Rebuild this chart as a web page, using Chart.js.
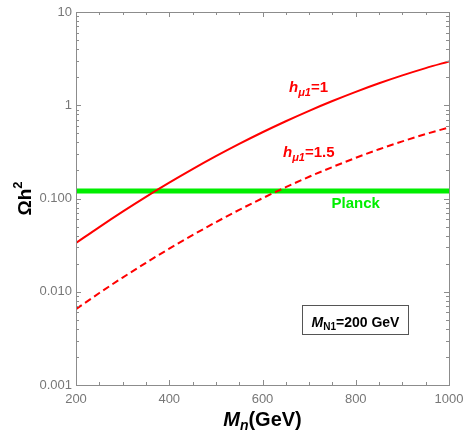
<!DOCTYPE html>
<html lang="en">
<head>
<meta charset="UTF-8">
<title>Relic density vs M_n</title>
<script src="https://cdn.jsdelivr.net/npm/chart.js"></script>
<style>
  body { margin: 0; background: #fff; }
  #wrap { width: 464px; height: 432px; position: relative; }
</style>
</head>
<body>
<div id="wrap"><canvas id="relicChart"></canvas></div>
<script>
// data
const masses = [200, 250, 300, 350, 400, 450, 500, 550, 600, 650, 700, 750, 800, 850, 900, 950, 1000];
const omegaH1 = [0.0333, 0.0494, 0.0723, 0.1042, 0.1478, 0.2065, 0.2841, 0.3849, 0.5134, 0.6741, 0.8719, 1.110, 1.392, 1.720, 2.091, 2.503, 2.951];
const omegaH15 = [0.00652, 0.00969, 0.01418, 0.02043, 0.02898, 0.0405, 0.0557, 0.0755, 0.1007, 0.1322, 0.1710, 0.2176, 0.2729, 0.3373, 0.4100, 0.4908, 0.5786];
const planckRange = [200, 1000];
const planckOmega = 0.12;
const xTicks = [200, 400, 600, 800, 1000];
const yTicks = [0.001, 0.01, 0.1, 1, 10];
const yTickLabels = ['0.001', '0.010', '0.100', '1', '10'];

const FONT = '"Liberation Sans", Arial, sans-serif';
const AXIS_GREY = '#8c8c8c';
const RED = '#ff0000';
const GREEN = '#00ee00';

// draws a run of text pieces one after another (for sub/superscripts)
function drawRuns(ctx, x, y, runs, align) {
  let total = 0;
  runs.forEach(r => { ctx.font = r.font; total += ctx.measureText(r.t).width; });
  let cx = align === 'center' ? x - total / 2 : x;
  runs.forEach(r => {
    ctx.font = r.font;
    ctx.fillText(r.t, cx, y + (r.dy || 0));
    cx += ctx.measureText(r.t).width;
  });
  return total;
}

const framePlugin = {
  id: 'frame',
  afterDatasetsDraw(chart) {
    const { ctx, chartArea: a, scales: { x, y } } = chart;
    ctx.save();
    ctx.strokeStyle = AXIS_GREY;
    ctx.lineWidth = 1;
    ctx.strokeRect(Math.round(a.left) + 0.5, Math.round(a.top) + 0.5, Math.round(a.right - a.left), Math.round(a.bottom - a.top));
    ctx.beginPath();
    // x ticks, every 50 GeV, inward on bottom and top
    for (let m = 200; m <= 1000; m += 50) {
      const px = Math.round(x.getPixelForValue(m)) + 0.5;
      const len = m % 200 === 0 ? 5 : 3;
      ctx.moveTo(px, a.bottom); ctx.lineTo(px, a.bottom - len);
      ctx.moveTo(px, a.top); ctx.lineTo(px, a.top + len);
    }
    // y ticks, decades and 2..9 minors, inward on left and right
    for (let e = -3; e <= 1; e++) {
      for (let k = 1; k <= 9; k++) {
        const v = k * Math.pow(10, e);
        if (v > 10) break;
        const py = Math.round(y.getPixelForValue(v)) + 0.5;
        const len = k === 1 ? 5 : 3;
        ctx.moveTo(a.left, py); ctx.lineTo(a.left + len, py);
        ctx.moveTo(a.right, py); ctx.lineTo(a.right - len, py);
      }
    }
    ctx.stroke();

    // curve labels
    ctx.fillStyle = RED;
    ctx.textBaseline = 'alphabetic';
    drawRuns(ctx, x.getPixelForValue(657), y.getPixelForValue(1.38), [
      { t: 'h', font: 'italic bold 15px ' + FONT },
      { t: 'μ1', font: 'italic bold 11px ' + FONT, dy: 4 },
      { t: '=1', font: 'bold 15px ' + FONT }
    ]);
    drawRuns(ctx, x.getPixelForValue(644), y.getPixelForValue(0.278), [
      { t: 'h', font: 'italic bold 15px ' + FONT },
      { t: 'μ1', font: 'italic bold 11px ' + FONT, dy: 4 },
      { t: '=1.5', font: 'bold 15px ' + FONT }
    ]);
    ctx.fillStyle = GREEN;
    drawRuns(ctx, x.getPixelForValue(800), y.getPixelForValue(0.0788), [
      { t: 'Planck', font: 'bold 15px ' + FONT }
    ], 'center');

    // mass box
    const bx0 = Math.round(x.getPixelForValue(685)) + 0.5, bx1 = Math.round(x.getPixelForValue(912)) + 0.5;
    const by0 = Math.round(y.getPixelForValue(0.0072)) + 0.5, by1 = Math.round(y.getPixelForValue(0.00352)) + 0.5;
    ctx.fillStyle = '#fff';
    ctx.fillRect(bx0, by0, bx1 - bx0, by1 - by0);
    ctx.strokeStyle = '#555';
    ctx.strokeRect(bx0, by0, bx1 - bx0, by1 - by0);
    ctx.fillStyle = '#000';
    drawRuns(ctx, (bx0 + bx1) / 2, y.getPixelForValue(0.00419), [
      { t: 'M', font: 'italic bold 14px ' + FONT },
      { t: 'N1', font: 'bold 10px ' + FONT, dy: 3 },
      { t: '=200 GeV', font: 'bold 14px ' + FONT }
    ], 'center');

    // axis titles
    ctx.fillStyle = '#000';
    drawRuns(ctx, (a.left + a.right) / 2, chart.height - 6, [
      { t: 'M', font: 'italic bold 20px ' + FONT },
      { t: 'n', font: 'italic bold 14px ' + FONT, dy: 4 },
      { t: '(GeV)', font: 'bold 20px ' + FONT }
    ], 'center');
    ctx.translate(31, (a.top + a.bottom) / 2);
    ctx.rotate(-Math.PI / 2);
    drawRuns(ctx, 0, 0, [
      { t: 'Ωh', font: 'bold 19px ' + FONT },
      { t: '2', font: 'bold 13px ' + FONT, dy: -9 }
    ], 'center');
    ctx.restore();
  }
};

new Chart(document.getElementById('relicChart'), {
  type: 'line',
  data: {
    datasets: [
      {
        data: masses.map((m, i) => ({ x: m, y: omegaH1[i] })),
        borderColor: RED, borderWidth: 2, pointRadius: 0, cubicInterpolationMode: 'monotone', fill: false
      },
      {
        data: masses.map((m, i) => ({ x: m, y: omegaH15[i] })),
        borderColor: RED, borderWidth: 2, borderDash: [7, 4], pointRadius: 0, cubicInterpolationMode: 'monotone', fill: false
      },
      {
        data: planckRange.map(m => ({ x: m, y: planckOmega })),
        borderColor: GREEN, borderWidth: 5, pointRadius: 0, fill: false
      }
    ]
  },
  options: {
    responsive: true,
    maintainAspectRatio: false,
    animation: false,
    events: [],
    layout: { padding: { top: 12, right: 15, left: 0, bottom: 0 } },
    plugins: { legend: { display: false }, tooltip: { enabled: false } },
    scales: {
      x: {
        type: 'linear', min: 200, max: 1000,
        grid: { display: false, drawTicks: false },
        border: { display: false },
        afterBuildTicks: s => { s.ticks = xTicks.map(v => ({ value: v })); },
        ticks: {
          color: '#777', font: { family: FONT, size: 13 }, padding: 7, maxRotation: 0, autoSkip: false,
          callback: v => String(v)
        },
        afterFit: s => { s.height = 47; s.paddingLeft = 0; s.paddingRight = 0; }
      },
      y: {
        type: 'logarithmic', min: 0.001, max: 10,
        grid: { display: false, drawTicks: false },
        border: { display: false },
        afterBuildTicks: s => { s.ticks = yTicks.map(v => ({ value: v })); },
        ticks: {
          color: '#777', font: { family: FONT, size: 13 }, padding: 4, autoSkip: false,
          callback: v => yTickLabels[yTicks.indexOf(v)] ?? ''
        },
        afterFit: s => { s.width = 76; s.paddingTop = 0; s.paddingBottom = 0; }
      }
    }
  },
  plugins: [framePlugin]
});
</script>
</body>
</html>
